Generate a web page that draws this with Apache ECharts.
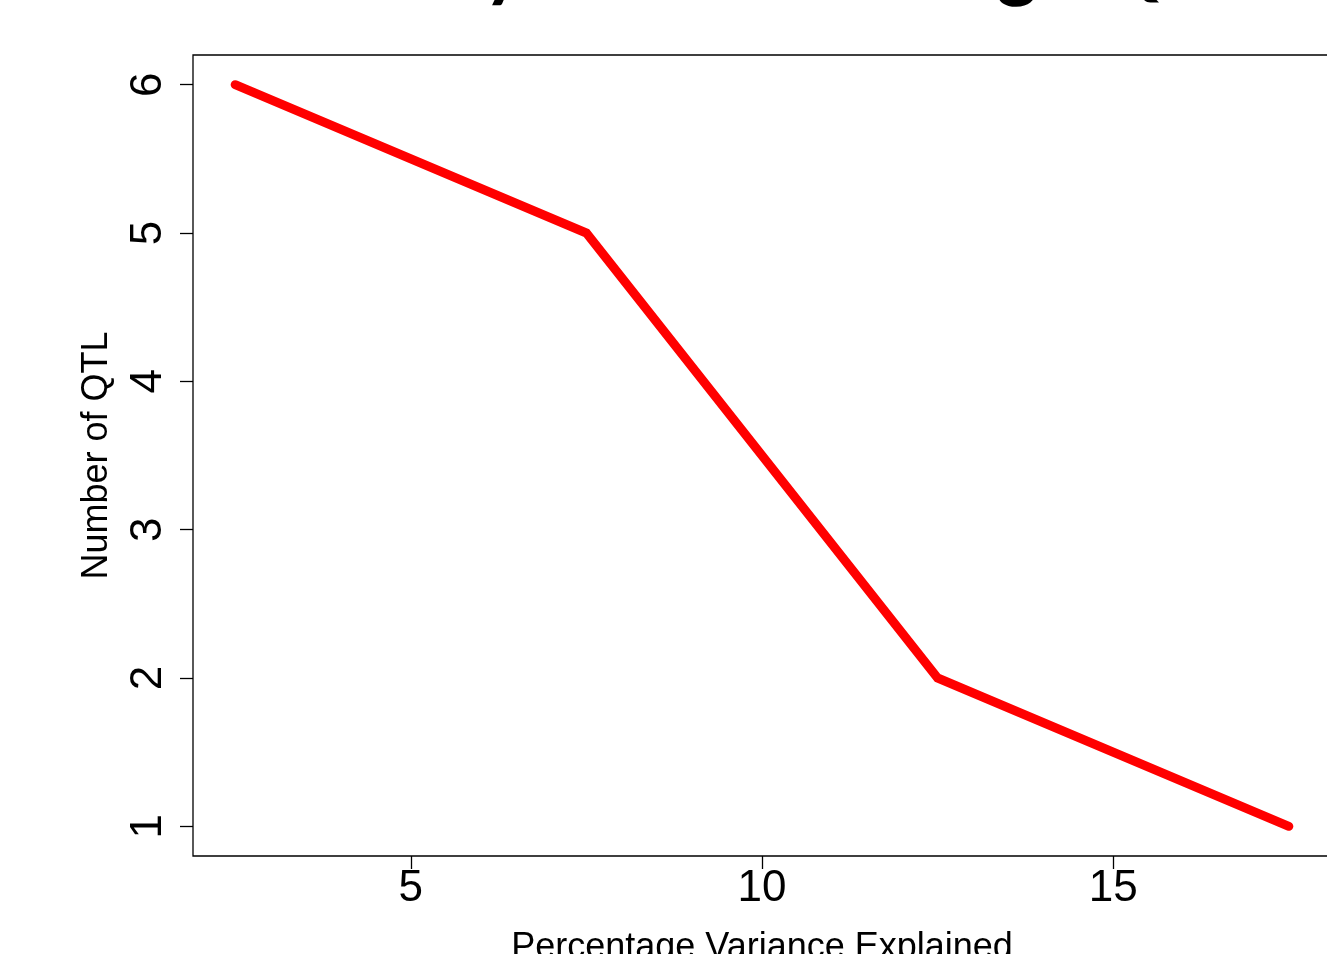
<!DOCTYPE html>
<html>
<head>
<meta charset="utf-8">
<title>Number of QTL</title>
<script src="https://cdn.jsdelivr.net/npm/echarts@6/dist/echarts.min.js"></script>
<style>
  html, body { margin: 0; padding: 0; background: #ffffff; }
  #chart { width: 1327px; height: 954px; }
</style>
</head>
<body>
<div id="chart"></div>
<script>
// Percentage of variance explained by each class of QTL, and how many QTL fall in it
const varianceExplained = [2.5, 7.5, 12.5, 17.5];
const qtlCount = [6, 5, 2, 1];

// Tick positions for both axes
const xTicks = [5, 10, 15];
const yTicks = [1, 2, 3, 4, 5, 6];

const titleText = 'Many Small and Large QTL';
const xAxisTitle = 'Percentage Variance Explained';
const yAxisTitle = 'Number of QTL';

const chart = echarts.init(document.getElementById('chart'), null, { renderer: 'canvas' });

const labelFont = '"Liberation Sans", Arial, Helvetica, sans-serif';

chart.setOption({
  animation: false,
  backgroundColor: '#ffffff',
  graphic: [{
    type: 'text',
    left: 330,
    top: -71,
    style: {
      text: titleText,
      fontFamily: 'Lato',
      fontWeight: 'bold',
      fontSize: 77,
      fill: '#000000'
    }
  }],
  grid: {
    left: 193,
    top: 55,
    right: -4,
    bottom: 98,
    outerBoundsMode: 'none',
    containLabel: false,
    show: true,
    borderColor: '#000000',
    borderWidth: 1.3,
    backgroundColor: 'transparent'
  },
  xAxis: {
    type: 'value',
    min: 1.9,
    max: 18.1,
    name: xAxisTitle,
    nameLocation: 'middle',
    nameGap: 74,
    nameTextStyle: { fontFamily: labelFont, fontSize: 36, color: '#000000' },
    axisLine: { show: false },
    splitLine: { show: false },
    axisTick: {
      show: true,
      inside: false,
      length: 13,
      customValues: xTicks,
      lineStyle: { color: '#000000', width: 1.3 }
    },
    axisLabel: {
      customValues: xTicks,
      margin: 11,
      fontFamily: labelFont,
      fontSize: 44,
      color: '#000000'
    }
  },
  yAxis: {
    type: 'value',
    min: 0.8,
    max: 6.2,
    name: yAxisTitle,
    nameLocation: 'middle',
    nameGap: 78,
    nameRotate: 90,
    nameTextStyle: { fontFamily: labelFont, fontSize: 36, color: '#000000' },
    axisLine: { show: false },
    splitLine: { show: false },
    axisTick: {
      show: true,
      inside: false,
      length: 13,
      customValues: yTicks,
      lineStyle: { color: '#000000', width: 1.3 }
    },
    axisLabel: {
      customValues: yTicks,
      rotate: 90,
      margin: 22,
      fontFamily: labelFont,
      fontSize: 44,
      color: '#000000'
    }
  },
  series: [{
    type: 'line',
    data: varianceExplained.map((x, i) => [x, qtlCount[i]]),
    showSymbol: false,
    symbol: 'none',
    lineStyle: { color: '#ff0000', width: 9, cap: 'round', join: 'miter' },
    clip: false
  }]
});
</script>
</body>
</html>
